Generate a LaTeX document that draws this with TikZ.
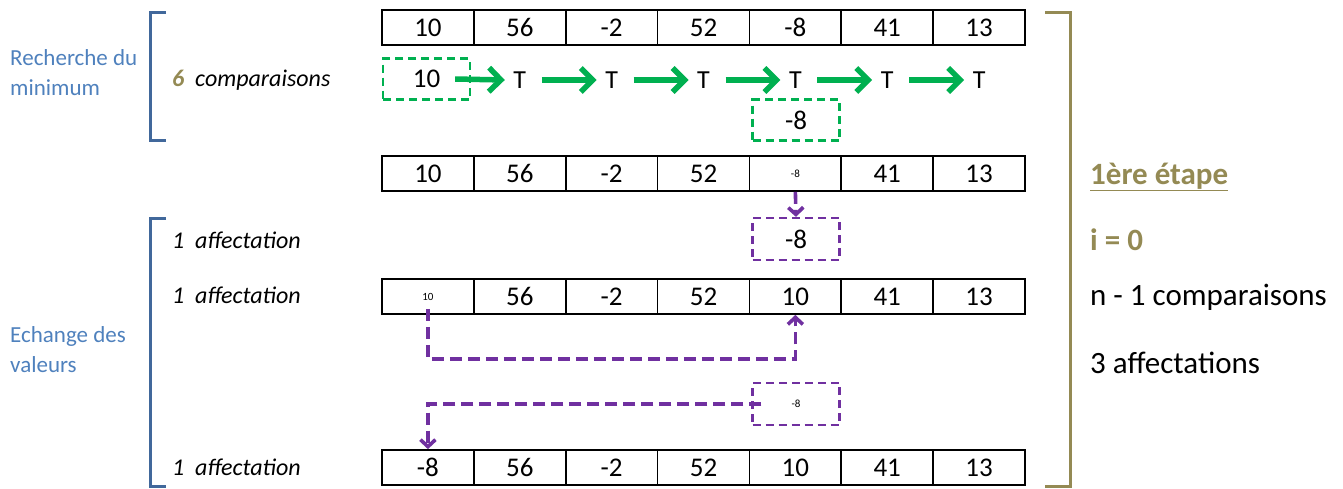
\documentclass[tikz,border=0pt]{standalone}
\usepackage{fontspec}
\setmainfont{Carlito}
\usetikzlibrary{arrows.meta}
\definecolor{olive}{HTML}{948A54}
\definecolor{bluebr}{HTML}{41689B}
\definecolor{bluetx}{HTML}{4F81BD}
\definecolor{grn}{HTML}{00B050}
\definecolor{purp}{HTML}{7030A0}
\newcommand\smallv[1]{{\fontsize{11}{12}\selectfont #1}}
\begin{document}
\begin{tikzpicture}[x=1pt,y=-1pt,
  cell/.style={draw, line width=1.8pt, minimum width=91.86pt, minimum height=35pt, inner sep=0pt, font=\fontsize{27}{28}\selectfont},
  tnode/.style={inner sep=0pt, font=\fontsize{26}{28}\selectfont},
  gbox/.style={draw=grn, dashed, dash pattern=on 8pt off 5pt, line width=2.2pt, minimum width=87pt, minimum height=41pt, inner sep=0pt, font=\fontsize{27}{28}\selectfont},
  pbox/.style={draw=purp, dashed, dash pattern=on 8pt off 5pt, line width=2.2pt, minimum width=87pt, minimum height=42pt, inner sep=0pt, font=\fontsize{27}{28}\selectfont},
  garrow/.style={grn, line width=5.5pt, -{Straight Barb[length=12pt,width=24pt,line width=5.5pt]}},
  parrow/.style={purp, line width=3.6pt, dashed, dash pattern=on 12pt off 6pt, -{Straight Barb[length=7pt,width=15pt,line width=3.6pt]}},
  lbl/.style={anchor=west, inner sep=0pt, font=\fontsize{24}{26}\selectfont\itshape},
  side/.style={anchor=west, inner sep=0pt, align=left, text=bluetx, font=\fontsize{23}{30}\selectfont},
  rtext/.style={anchor=west, inner sep=0pt, font=\fontsize{31}{33}\selectfont}]
\useasboundingbox (0,0) rectangle (1343,488);
% arrays
\foreach \i/\v in {1/10,2/56,3/-2,4/52,5/-8,6/41,7/13}
  \node[cell] (r1-\i) at ({382+91.86*(\i-0.5)},27.5) {\v};
\foreach \i/\v in {1/10,2/56,3/-2,4/52,5/{\smallv{-8}},6/41,7/13}
  \node[cell] (r2-\i) at ({382+91.86*(\i-0.5)},173.5) {\v};
\foreach \i/\v in {1/{\smallv{10}},2/56,3/-2,4/52,5/10,6/41,7/13}
  \node[cell] (r3-\i) at ({382+91.86*(\i-0.5)},296.5) {\v};
\foreach \i/\v in {1/-8,2/56,3/-2,4/52,5/10,6/41,7/13}
  \node[cell] (r4-\i) at ({382+91.86*(\i-0.5)},467.5) {\v};
% comparisons
\node[gbox] (g1) at (426.5,79) {10};
\foreach \i in {2,...,7}
  \node[tnode] (t\i) at ({382+91.86*(\i-0.5)},80) {T};
\draw[garrow] ([xshift=-16pt]g1.east) -- ([xshift=-15pt]t2.center);
\foreach \i/\j in {2/3,3/4,4/5,5/6,6/7}
  \draw[garrow] ([xshift=22pt]t\i.center) -- ([xshift=-15pt]t\j.center);
\node[gbox] (g2) at (796,120) {-8};
% exchange
\node[pbox] (p1) at (796,239) {-8};
\draw[parrow] (r2-5.south) -- (p1.north);
\coordinate (c1) at ([yshift=-44pt]r3-1.south);
\draw[parrow] ([yshift=6pt]r3-1.south) -- (c1) -| (r3-5.south);
\node[pbox] (p2) at (796,404) {\smallv{-8}};
\draw[parrow] ([xshift=10pt]p2.west) -| (r4-1.north);
% brackets
\draw[bluebr, line width=3pt] (166,12) -- (150,12) -- (150,140) -- (166,140);
\draw[bluebr, line width=3pt] (166,218) -- (150,218) -- (150,486) -- (166,486);
\draw[olive, line width=3pt] (1045,12) -- (1070,12) -- (1070,486) -- (1045,486);
% left labels
\node[side] (s1) at (10,73) {Recherche du\\minimum};
\node[side] (s2) at (10,350) {Echange des\\valeurs};
\node[lbl] (l1) at (172,80) {{\bfseries\color{olive}6}\ \ comparaisons};
\node[lbl] (l2) at (172,240) {1\ \ affectation};
\node[lbl] (l3) at (172,295) {1\ \ affectation};
\node[lbl] (l4) at (172,467) {1\ \ affectation};
% right labels
\node[rtext, text=olive, font=\fontsize{31}{33}\selectfont\bfseries] (e1) at (1090,177) {\underline{1ère étape}};
\node[rtext, text=olive, font=\fontsize{31}{33}\selectfont\bfseries] (e2) at (1090,240) {i = 0};
\node[rtext] (e3) at (1090,297) {n - 1 comparaisons};
\node[rtext] (e4) at (1090,363) {3 affectations};
\end{tikzpicture}
\end{document}
